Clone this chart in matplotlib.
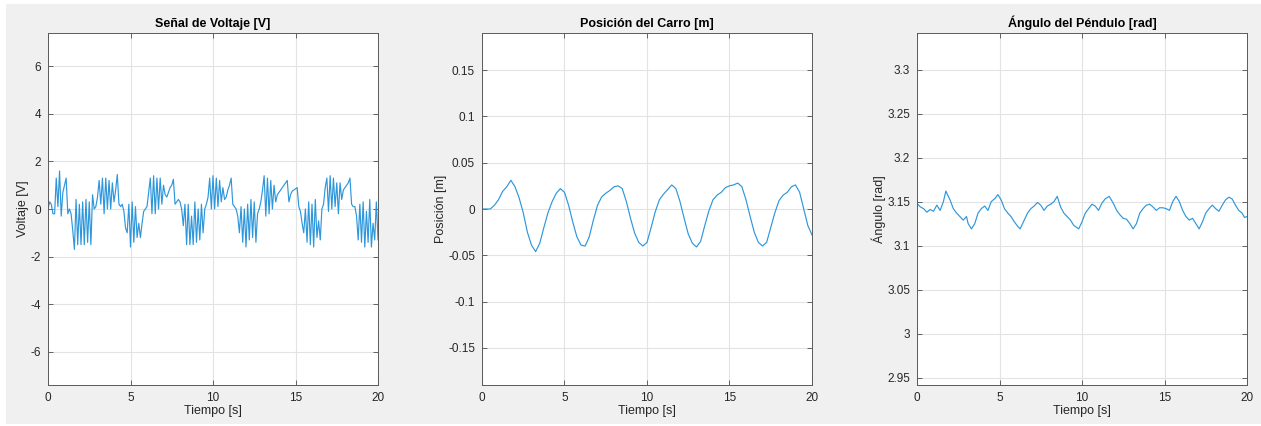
import numpy as np
import matplotlib
matplotlib.use("Agg")
import matplotlib.pyplot as plt
from matplotlib.patches import Rectangle

plt.rcParams['font.family'] = ['Liberation Sans', 'DejaVu Sans']

# ---- voltage signal (0.1 s samples) ----
t_volt = np.round(np.arange(0, 201) * 0.1, 1)
volt = [
    0.0, 0.3, 0.2, -0.2, -0.2, 1.3, 0.1, 1.6, -0.3, 0.7,
    1.0, 1.3, -0.2, 0.0, -0.2, -0.9, -1.7, 0.4, -1.5, 0.2,
    -1.5, 0.3, -1.5, 0.4, -1.4, 0.3, -1.5, 0.6, 0.0, 0.1,
    0.5, 1.2, 0.2, 1.3, -0.2, 1.3, 0.0, 1.2, 0.0, 1.1,
    0.3, 0.8, 1.45, 0.2, 0.1, 0.2, -0.1, -0.8, -1.0, 0.2,
    -1.6, 0.3, -1.4, 0.1, -1.2, -0.6, -1.2, -0.6, -0.1, 0.0,
    0.1, 0.7, 1.3, -0.2, 1.4, -0.2, 1.3, 0.0, 1.3, 0.2,
    1.0, 0.6, 0.5, 0.7, 0.9, 1.0, 1.25, 0.2, 0.3, 0.4,
    0.3, 0.0, -0.7, 0.2, -1.5, 0.2, -1.5, -0.3, -1.5, 0.3,
    -1.4, 0.0, -1.3, 0.2, -1.0, 0.0, 0.2, 0.5, 1.3, 0.0,
    1.4, 0.0, 1.3, 0.1, 1.2, 0.3, 0.9, 0.4, 0.5, 0.8,
    1.0, 1.3, 0.2, 0.1, 0.0, -0.3, -1.0, 0.1, -1.4, 0.0,
    -1.6, 0.2, -1.3, 0.4, -1.2, 0.3, -1.4, -0.2, 0.0, 0.3,
    0.8, 1.4, -0.3, 1.3, -0.2, 1.2, 0.0, 1.0, 0.3, 0.6,
    0.7, 0.8, 0.9, 1.0, 1.1, 1.2, 0.3, 0.6, 0.75, 0.8,
    0.85, 0.9, 0.1, -0.1, -0.6, -1.0, 0.0, -1.4, 0.3, -1.5,
    0.2, -1.6, 0.4, -1.2, -0.5, -1.3, 0.0, 0.2, 0.9, 1.3,
    -0.1, 1.4, 0.0, 1.3, 0.1, 1.1, -0.2, 1.1, 0.4, 0.8,
    0.9, 1.0, 1.1, 1.3, 0.2, 0.1, 0.1, -0.3, -1.3, 0.2,
    -1.4, 0.3, -1.6, -0.1, -1.4, 0.4, -1.6, -0.6, -1.3, 0.3,
    -1.3,
]

# ---- cart position (0.25 s samples) ----
t_pos = np.arange(0, 81) * 0.25
pos = [
    0.0, 0.0, 0.0, 0.004, 0.010, 0.019, 0.024, 0.031, 0.024, 0.012,
    -0.004, -0.025, -0.039, -0.046, -0.037, -0.020, -0.004, 0.008, 0.017, 0.022,
    0.018, 0.004, -0.014, -0.030, -0.039, -0.040, -0.030, -0.012, 0.004, 0.013,
    0.017, 0.020, 0.024, 0.025, 0.022, 0.008, -0.010, -0.026, -0.036, -0.040,
    -0.036, -0.020, -0.003, 0.010, 0.016, 0.021, 0.026, 0.022, 0.008, -0.010,
    -0.027, -0.037, -0.041, -0.035, -0.018, -0.002, 0.010, 0.015, 0.018, 0.023,
    0.025, 0.026, 0.028, 0.024, 0.010, -0.008, -0.025, -0.036, -0.040, -0.036,
    -0.020, -0.004, 0.009, 0.015, 0.018, 0.024, 0.026, 0.018, 0.000, -0.018,
    -0.028,
]

# ---- pendulum angle ----
t_ang = [
    0.0, 0.2, 0.4, 0.6, 0.8, 1.0, 1.2, 1.4, 1.6, 1.75,
    2.0, 2.2, 2.4, 2.6, 2.8, 3.0, 3.1, 3.3, 3.5, 3.7,
    3.9, 4.1, 4.3, 4.5, 4.75, 4.9, 5.1, 5.3, 5.5, 5.7,
    5.9, 6.1, 6.25, 6.5, 6.7, 6.9, 7.1, 7.3, 7.5, 7.7,
    7.9, 8.1, 8.3, 8.5, 8.7, 8.9, 9.1, 9.3, 9.5, 9.8,
    10.0, 10.2, 10.4, 10.6, 10.8, 11.0, 11.2, 11.4, 11.65, 11.9,
    12.1, 12.3, 12.5, 12.7, 12.9, 13.1, 13.3, 13.5, 13.7, 13.9,
    14.1, 14.3, 14.5, 14.7, 14.9, 15.1, 15.3, 15.5, 15.7, 15.9,
    16.1, 16.3, 16.5, 16.7, 16.9, 17.1, 17.3, 17.5, 17.7, 17.9,
    18.1, 18.3, 18.5, 18.7, 18.9, 19.1, 19.3, 19.5, 19.7, 19.85,
    20.0,
]
ang = [
    3.148, 3.144, 3.142, 3.138, 3.141, 3.139, 3.146, 3.140, 3.150, 3.162,
    3.152, 3.142, 3.137, 3.133, 3.129, 3.133, 3.125, 3.119, 3.125, 3.137,
    3.142, 3.145, 3.140, 3.150, 3.154, 3.158, 3.152, 3.142, 3.137, 3.133,
    3.127, 3.122, 3.119, 3.129, 3.137, 3.142, 3.145, 3.149, 3.146, 3.140,
    3.145, 3.147, 3.150, 3.156, 3.144, 3.137, 3.133, 3.129, 3.123, 3.119,
    3.127, 3.137, 3.142, 3.147, 3.145, 3.140, 3.148, 3.153, 3.156, 3.148,
    3.140, 3.135, 3.131, 3.130, 3.125, 3.119, 3.125, 3.137, 3.142, 3.146,
    3.147, 3.144, 3.140, 3.143, 3.143, 3.142, 3.140, 3.150, 3.156, 3.150,
    3.140, 3.133, 3.129, 3.131, 3.125, 3.119, 3.127, 3.137, 3.142, 3.146,
    3.142, 3.139, 3.146, 3.152, 3.155, 3.153, 3.146, 3.140, 3.137, 3.132,
    3.133,
]

titles = ["Señal de Voltaje [V]", "Posición del Carro [m]", "Ángulo del Péndulo [rad]"]
ylabels = ["Voltaje [V]", "Posición [m]", "Ángulo [rad]"]
yticks = [
    [-6, -4, -2, 0, 2, 4, 6],
    [-0.15, -0.1, -0.05, 0, 0.05, 0.1, 0.15],
    [2.95, 3.0, 3.05, 3.1, 3.15, 3.2, 3.25, 3.3],
]
yticklabels = [
    ["-6", "-4", "-2", "0", "2", "4", "6"],
    ["-0.15", "-0.1", "-0.05", "0", "0.05", "0.1", "0.15"],
    ["2.95", "3", "3.05", "3.1", "3.15", "3.2", "3.25", "3.3"],
]
ylims = [(-7.4, 7.4), (-0.19, 0.19), (2.9416, 3.3416)]
xticks = [0, 5, 10, 15, 20]

W, H = 1261, 426
fig = plt.figure(figsize=(W / 100, H / 100), dpi=100, facecolor='white')
bg = Rectangle((6 / W, 2 / H), 1.0, (422 - 2) / H, transform=fig.transFigure,
               facecolor='#f0f0f0', edgecolor='none', zorder=-10)
fig.patches.append(bg)

lefts = [48, 482, 917]
series = [(t_volt, volt), (t_pos, pos), (t_ang, ang)]
line_color = '#2e97db'
axis_color = '#262626'

for i in range(3):
    ax = fig.add_axes([lefts[i] / W, 1 - 385 / H, 330 / W, 352 / H])
    ax.set_zorder(1)
    ax.set_facecolor('white')
    x, y = series[i]
    ax.plot(x, y, color=line_color, lw=0.85)
    ax.set_xlim(0, 20)
    ax.set_ylim(*ylims[i])
    ax.set_xticks(xticks)
    ax.set_xticklabels([str(v) for v in xticks])
    ax.set_yticks(yticks[i])
    ax.set_yticklabels(yticklabels[i])
    ax.set_axisbelow(True)
    ax.grid(True, color='#e3e3e3', lw=0.8)
    ax.tick_params(direction='in', length=3.5, width=0.6, top=True, right=True,
                   labelsize=8.5, pad=5, colors='#4d4d4d', labelcolor=axis_color)
    for sp in ax.spines.values():
        sp.set_color('#5a5a5a')
        sp.set_linewidth(0.7)
    ax.set_title(titles[i], fontsize=9, fontweight='bold', color='black', pad=4)
    ax.set_xlabel("Tiempo [s]", fontsize=9, color=axis_color, labelpad=1)
    ax.set_ylabel(ylabels[i], fontsize=9, color=axis_color, labelpad=1)

fig.savefig("out.png", dpi=100, facecolor=fig.get_facecolor())
